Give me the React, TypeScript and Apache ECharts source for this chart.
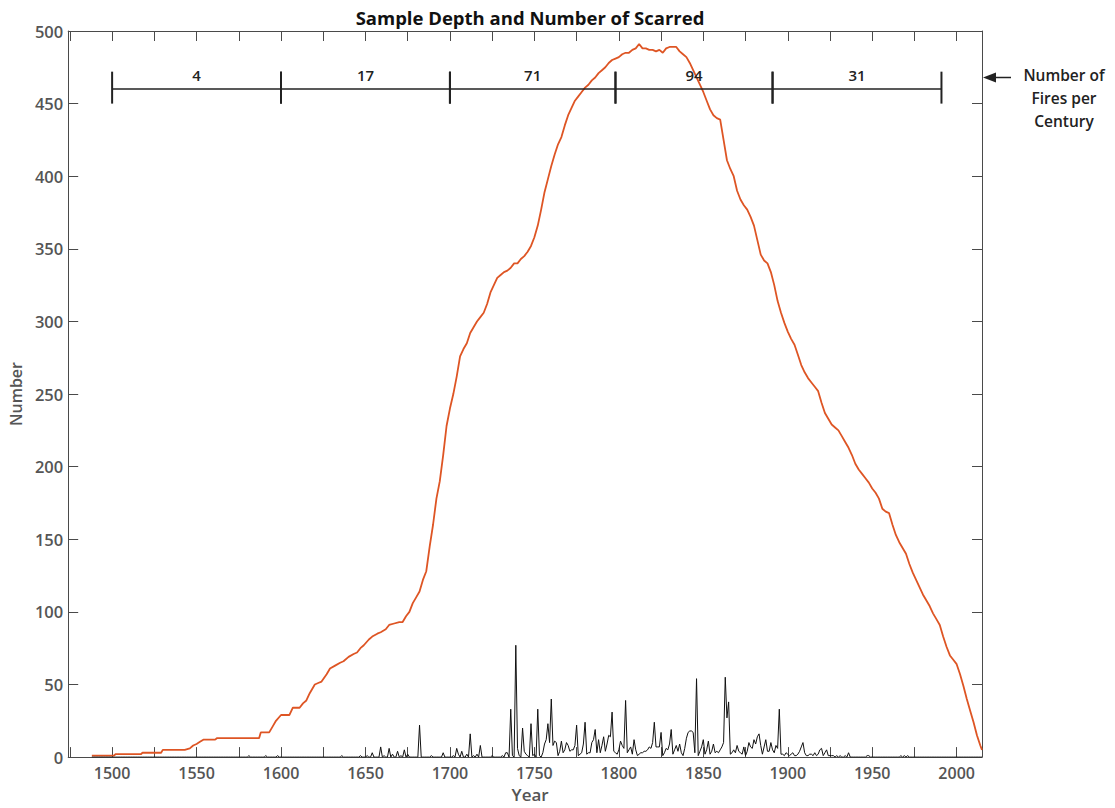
import React, { useEffect, useRef } from "react";
import * as echarts from "echarts";

const chartTitle = "Sample Depth and Number of Scarred";
const xAxisName = "Year";
const yAxisName = "Number";
const xMin = 1474;
const xMax = 2015;
const xTickYears = [1475, 1500, 1525, 1550, 1575, 1600, 1625, 1650, 1675, 1700, 1725, 1750, 1775, 1800, 1825, 1850, 1875, 1900, 1925, 1950, 1975, 2000];
const xLabelYears = [1500, 1550, 1600, 1650, 1700, 1750, 1800, 1850, 1900, 1950, 2000];

// sample depth (orange line): [year, number of samples]
const sampleDepth: [number, number][] = [
  [1488, 1], [1501, 1], [1502, 2], [1517, 2], [1518, 3], [1529, 3], [1530, 5], [1543, 5], [1546, 6], [1548, 8], [1550, 9],
  [1552, 10.5], [1554, 12], [1561, 12], [1562, 13], [1587, 13], [1588, 17], [1593, 17], [1595, 21], [1597, 25], [1600, 29],
  [1605, 29], [1607, 34], [1611, 34], [1613, 37], [1615, 39], [1617, 44], [1620, 50], [1622, 51], [1624, 52], [1627, 57],
  [1629, 61], [1632, 63], [1635, 65], [1637, 66], [1640, 69], [1643, 71], [1645, 72], [1647, 75], [1649, 77], [1652, 81],
  [1654, 83], [1657, 85], [1659, 86], [1662, 88], [1664, 91], [1667, 92], [1670, 93], [1672, 93], [1674, 97], [1676, 100],
  [1678, 106], [1680, 110], [1682, 114], [1684, 122], [1686, 128], [1688, 145], [1690, 160], [1692, 178], [1694, 190],
  [1696, 208], [1698, 228], [1700, 240], [1702, 250], [1704, 262], [1706, 276], [1708, 281], [1710, 285], [1712, 292],
  [1714, 296], [1716, 300], [1718, 303], [1720, 306], [1722, 312], [1724, 320], [1726, 325], [1728, 330], [1730, 332],
  [1732, 334], [1734, 335], [1736, 337], [1738, 340], [1740, 340], [1742, 343], [1744, 345], [1746, 348], [1748, 352],
  [1750, 358], [1752, 366], [1754, 377], [1756, 389], [1758, 398], [1760, 407], [1762, 415], [1764, 422], [1766, 427],
  [1768, 435], [1770, 442], [1772, 447], [1774, 452], [1776, 455], [1778, 458], [1780, 461], [1782, 463], [1784, 466],
  [1786, 468], [1788, 471], [1790, 473], [1792, 475], [1794, 478], [1796, 480], [1798, 481], [1800, 482], [1802, 484],
  [1804, 485], [1806, 485], [1808, 487], [1810, 488], [1812, 491], [1814, 488], [1816, 488], [1818, 487], [1820, 487],
  [1822, 486], [1824, 487], [1826, 485], [1828, 488], [1830, 489], [1832, 489], [1834, 489], [1836, 486], [1838, 484],
  [1840, 482], [1842, 478], [1844, 473], [1846, 468], [1848, 463], [1850, 458], [1852, 452], [1854, 446], [1856, 442],
  [1858, 440], [1860, 439], [1862, 425], [1864, 411], [1866, 405], [1868, 400], [1870, 390], [1872, 384], [1874, 380],
  [1876, 377], [1878, 372], [1880, 366], [1882, 356], [1884, 346], [1886, 342], [1888, 340], [1890, 334], [1892, 325],
  [1894, 314], [1896, 306], [1898, 299], [1900, 293], [1902, 288], [1904, 284], [1906, 277], [1908, 270], [1910, 265],
  [1912, 261], [1914, 258], [1916, 255], [1918, 252], [1920, 244], [1922, 237], [1924, 233], [1926, 229], [1928, 227],
  [1930, 225], [1932, 221], [1934, 217], [1936, 213], [1938, 208], [1940, 202], [1942, 198], [1944, 195], [1946, 192],
  [1948, 189], [1950, 185], [1952, 182], [1954, 178], [1956, 171], [1958, 169], [1960, 168], [1962, 160], [1964, 153],
  [1966, 148], [1968, 144], [1970, 140], [1972, 133], [1974, 127], [1976, 122], [1978, 117], [1980, 112], [1982, 108],
  [1984, 104], [1986, 99], [1988, 95], [1990, 91], [1992, 83], [1994, 76], [1996, 70], [1998, 67], [2000, 64], [2002, 57],
  [2004, 49], [2006, 40], [2008, 32], [2010, 24], [2012, 15], [2014, 8], [2015, 5],
];

// number of scarred samples (black line): years not listed are 0
const scarredStart = 1488;
const scarredEnd = 2015;
const scarred: [number, number][] = [
  [1581, 1], [1591, 1], [1598, 1], [1636, 1], [1647, 1], [1651, 1], [1654, 3], [1659, 7], [1661, 1], [1664, 6], [1666, 2],
  [1669, 4], [1671, 1], [1673, 5], [1675, 2], [1682, 22], [1689, 1], [1696, 3], [1702, 1], [1704, 6], [1705, 2], [1707, 4],
  [1710, 2], [1712, 16], [1714, 1], [1716, 2], [1718, 8], [1725, 1], [1731, 1], [1733, 3], [1734, 3], [1736, 33], [1737, 1],
  [1739, 77], [1740, 6], [1741, 1], [1743, 20], [1744, 4], [1745, 2], [1746, 1], [1748, 23], [1749, 1], [1750, 2], [1752, 33],
  [1753, 1], [1755, 3], [1756, 9], [1757, 12], [1758, 23], [1759, 10], [1760, 40], [1761, 8], [1762, 11], [1763, 10],
  [1764, 1], [1765, 4], [1766, 11], [1767, 3], [1768, 5], [1769, 10], [1770, 8], [1771, 4], [1772, 5], [1773, 5], [1774, 8],
  [1775, 22], [1776, 1], [1777, 2], [1778, 3], [1779, 9], [1780, 24], [1781, 2], [1782, 3], [1783, 3], [1784, 10], [1785, 12],
  [1786, 19], [1787, 3], [1788, 12], [1789, 3], [1790, 8], [1791, 14], [1792, 4], [1793, 9], [1794, 15], [1795, 14], [1796, 31],
  [1797, 4], [1798, 3], [1799, 2], [1800, 5], [1801, 11], [1802, 8], [1803, 6], [1804, 39], [1805, 3], [1806, 5], [1807, 7],
  [1808, 2], [1809, 12], [1810, 5], [1811, 1], [1812, 2], [1813, 3], [1814, 3], [1815, 4], [1816, 4], [1817, 5], [1818, 7],
  [1819, 6], [1820, 10], [1821, 24], [1822, 7], [1823, 7], [1824, 7], [1825, 17], [1826, 1], [1827, 3], [1828, 6], [1829, 5],
  [1830, 9], [1831, 19], [1832, 2], [1833, 5], [1834, 8], [1835, 4], [1836, 9], [1837, 3], [1838, 1], [1839, 6], [1840, 13],
  [1841, 17], [1842, 18], [1843, 18], [1844, 17], [1845, 3], [1846, 54], [1847, 1], [1848, 4], [1849, 7], [1850, 12], [1851, 2],
  [1852, 5], [1853, 11], [1854, 2], [1855, 4], [1856, 9], [1857, 3], [1858, 4], [1859, 3], [1860, 5], [1861, 7], [1862, 10],
  [1863, 55], [1864, 27], [1865, 38], [1866, 2], [1867, 3], [1868, 5], [1869, 3], [1870, 8], [1871, 4], [1872, 3], [1873, 2],
  [1874, 7], [1875, 1], [1876, 4], [1877, 10], [1878, 7], [1879, 6], [1880, 12], [1881, 9], [1882, 14], [1883, 16], [1884, 8],
  [1885, 2], [1886, 7], [1887, 12], [1888, 4], [1889, 4], [1890, 10], [1891, 5], [1892, 3], [1893, 8], [1894, 6], [1895, 33],
  [1896, 2], [1897, 2], [1898, 1], [1899, 3], [1900, 2], [1901, 1], [1902, 2], [1903, 3], [1904, 1], [1905, 1], [1906, 2],
  [1907, 4], [1908, 7], [1909, 10], [1910, 3], [1911, 1], [1912, 1], [1913, 2], [1914, 2], [1915, 1], [1916, 3], [1917, 1],
  [1918, 2], [1919, 5], [1920, 6], [1921, 1], [1922, 3], [1923, 5], [1924, 1], [1925, 1], [1926, 1], [1927, 1], [1929, 1],
  [1931, 1], [1934, 1], [1936, 3], [1947, 1], [1948, 1], [1967, 1], [1969, 1], [1971, 1],
];

// fire-interval bracket
const centuryBreaks = [1500, 1600, 1700, 1798, 1891, 1991];
const firesPerCentury = [4, 17, 71, 94, 31];
const bracketLevel = 460;
const bracketTop = 472;
const bracketBottom = 450;
const bracketLabelLevel = 470;
const annotationLines = ["Number of", "Fires per", "Century"];

const FONT = "'Open Sans', 'Noto Sans', sans-serif";
const AXIS_COLOR = "#4a4a4a";
const LABEL_COLOR = "#555555";
const ORANGE = "#DE5524";

export default function App() {
  const ref = useRef<HTMLDivElement>(null);

  useEffect(() => {
    if (!ref.current) return;
    const chart = echarts.init(ref.current, null, { renderer: "svg" });

    const scarredMap = new Map<number, number>(scarred);
    const scarredSeries: [number, number][] = [];
    for (let y = scarredStart; y <= scarredEnd; y++) {
      scarredSeries.push([y, scarredMap.get(y) ?? 0]);
    }

    const periods = firesPerCentury.map((n, i) => [centuryBreaks[i], centuryBreaks[i + 1], n]);

    const baseX = {
      type: "value",
      min: xMin,
      max: xMax,
      splitLine: { show: false },
      axisLine: { show: true, onZero: false, lineStyle: { color: AXIS_COLOR, width: 1 } },
      axisTick: { show: true, inside: true, length: 10, customValues: xTickYears, lineStyle: { color: AXIS_COLOR } },
    };
    const baseY = {
      type: "value",
      min: 0,
      max: 500,
      interval: 50,
      splitLine: { show: false },
      axisLine: { show: true, onZero: false, lineStyle: { color: AXIS_COLOR, width: 1 } },
      axisTick: { show: true, inside: true, length: 10, lineStyle: { color: AXIS_COLOR } },
    };

    const option: any = {
      animation: false,
      grid: { left: 68, right: 133, top: 31, bottom: 46, containLabel: false },
      xAxis: [
        {
          ...baseX,
          position: "bottom",
          name: xAxisName,
          nameLocation: "middle",
          nameGap: 25,
          nameTextStyle: { color: LABEL_COLOR, fontSize: 17, fontFamily: FONT, fontWeight: 600, padding: [0, 0, 0, 10] },
          axisLabel: {
            show: true,
            customValues: xLabelYears,
            formatter: (v: number) => String(v),
            color: LABEL_COLOR,
            fontSize: 16,
            fontFamily: FONT,
            fontWeight: 600,
            margin: 8,
          },
        },
        { ...baseX, position: "top", axisLabel: { show: false } },
      ],
      yAxis: [
        {
          ...baseY,
          position: "left",
          name: yAxisName,
          nameLocation: "middle",
          nameGap: 42,
          nameTextStyle: { color: LABEL_COLOR, fontSize: 16, fontFamily: FONT, fontWeight: 600 },
          axisLabel: { show: true, color: LABEL_COLOR, fontSize: 16.5, fontFamily: FONT, fontWeight: 600, margin: 5 },
        },
        { ...baseY, position: "right", axisLabel: { show: false } },
      ],
      series: [
        {
          type: "line",
          name: "Sample depth",
          data: sampleDepth,
          showSymbol: false,
          symbol: "none",
          lineStyle: { color: ORANGE, width: 1.8 },
          z: 2,
        },
        {
          type: "line",
          name: "Number scarred",
          data: scarredSeries,
          showSymbol: false,
          symbol: "none",
          lineStyle: { color: "#111111", width: 1 },
          z: 3,
        },
        {
          type: "custom",
          name: "Fires per century",
          data: periods,
          z: 5,
          renderItem: (_params: any, api: any) => {
            const s = api.value(0);
            const e = api.value(1);
            const n = api.value(2);
            const p0 = api.coord([s, bracketLevel]);
            const p1 = api.coord([e, bracketLevel]);
            const t0 = api.coord([s, bracketTop]);
            const b0 = api.coord([s, bracketBottom]);
            const t1 = api.coord([e, bracketTop]);
            const b1 = api.coord([e, bracketBottom]);
            const lbl = api.coord([(s + e) / 2, bracketLabelLevel]);
            return {
              type: "group",
              children: [
                { type: "line", shape: { x1: p0[0], y1: p0[1], x2: p1[0], y2: p1[1] }, style: { stroke: "#222", lineWidth: 1.5 } },
                { type: "line", shape: { x1: t0[0], y1: t0[1], x2: b0[0], y2: b0[1] }, style: { stroke: "#222", lineWidth: 2 } },
                { type: "line", shape: { x1: t1[0], y1: t1[1], x2: b1[0], y2: b1[1] }, style: { stroke: "#222", lineWidth: 2 } },
                {
                  type: "text",
                  x: lbl[0],
                  y: lbl[1],
                  style: {
                    text: String(n),
                    fill: "#222",
                    font: `600 15px ${FONT}`,
                    textAlign: "center",
                    textVerticalAlign: "middle",
                    align: "center",
                    verticalAlign: "middle",
                  },
                },
              ],
            };
          },
        },
      ],
      graphic: [
        {
          type: "text",
          x: 530,
          y: 17,
          style: {
            text: chartTitle,
            fill: "#111",
            font: `bold 18.5px ${FONT}`,
            textAlign: "center",
            textVerticalAlign: "middle",
            align: "center",
            verticalAlign: "middle",
          },
        },
        {
          type: "line",
          shape: { x1: 1011, y1: 77.5, x2: 992, y2: 77.5 },
          style: { stroke: "#222", lineWidth: 1.5 },
        },
        {
          type: "polygon",
          shape: { points: [[983, 77.5], [996, 72.5], [996, 82.5]] },
          style: { fill: "#222" },
        },
        ...annotationLines.map((t, i) => ({
          type: "text",
          x: 1064,
          y: 75 + i * 23,
          style: {
            text: t,
            fill: "#222",
            font: `600 15.5px ${FONT}`,
            textAlign: "center",
            textVerticalAlign: "middle",
            align: "center",
            verticalAlign: "middle",
          },
        })),
      ],
    };

    chart.setOption(option);
    return () => chart.dispose();
  }, []);

  return (
    <div
      ref={ref}
      style={{ position: "fixed", left: 0, top: 0, width: 1115, height: 808, background: "#fff" }}
    />
  );
}
